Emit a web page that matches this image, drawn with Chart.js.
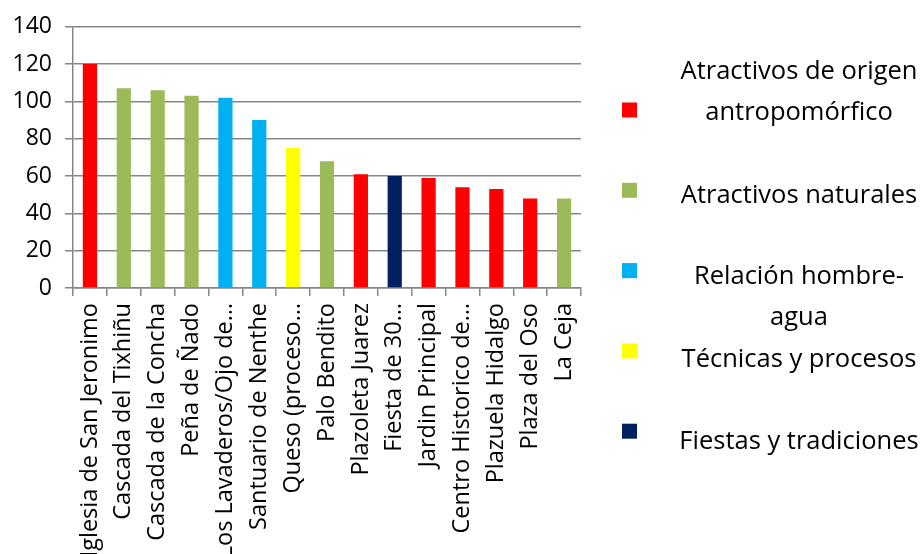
<!DOCTYPE html>
<html>
<head>
<meta charset="utf-8">
<script src="https://cdn.jsdelivr.net/npm/chart.js@4/dist/chart.umd.min.js"></script>
<style>
  html, body { margin: 0; padding: 0; background: #fff; }
  #wrap { width: 920px; height: 554px; position: relative; }
</style>
</head>
<body>
<div id="wrap"><canvas id="chart"></canvas></div>
<script>
const attractions = [
  'Iglesia de San Jeronimo', 'Cascada del Tixhiñu', 'Cascada de la Concha', 'Peña de Ñado',
  'Los Lavaderos/Ojo de…', 'Santuario de Nenthe', 'Queso (proceso…', 'Palo Bendito',
  'Plazoleta Juarez', 'Fiesta de 30…', 'Jardin Principal', 'Centro Historico de…',
  'Plazuela Hidalgo', 'Plaza del Oso', 'La Ceja'
];
const visits = [120, 107, 106, 103, 102, 90, 75, 68, 61, 60, 59, 54, 53, 48, 48];
// index into groupNames for each attraction
const groupOf = [0, 1, 1, 1, 2, 2, 3, 1, 0, 4, 0, 0, 0, 0, 1];

const groupNames = [
  ['Atractivos de origen', 'antropomórfico'],
  ['Atractivos naturales'],
  ['Relación hombre-', 'agua'],
  ['Técnicas y procesos'],
  ['Fiestas y tradiciones']
];
const groupColors = ['#ff0000', '#9bbb59', '#00b0f0', '#ffff00', '#002060'];

const yTicks = [0, 20, 40, 60, 80, 100, 120, 140];

const FONT = '"Open Sans", sans-serif';

// Excel-style legend on the right, one swatch per group
const sideLegend = {
  id: 'sideLegend',
  afterDraw(chart) {
    const ctx = chart.ctx;
    ctx.save();
    ctx.font = '25.5px ' + FONT;
    ctx.textAlign = 'center';
    ctx.textBaseline = 'middle';
    const textOffsets = [-18, 5, 27, 9, 11];
    groupNames.forEach((lines, i) => {
      const cy = 110 + i * 80.3;
      ctx.fillStyle = groupColors[i];
      ctx.fillRect(622, cy - 7.5, 15, 15);
      ctx.fillStyle = '#000';
      const start = cy + textOffsets[i] - (lines.length - 1) * 41 / 2;
      lines.forEach((ln, j) => ctx.fillText(ln, 799, start + j * 41));
    });
    ctx.restore();
  }
};

new Chart(document.getElementById('chart'), {
  type: 'bar',
  data: {
    labels: attractions,
    datasets: [{
      data: visits,
      backgroundColor: groupOf.map(g => groupColors[g]),
      borderWidth: 0,
      categoryPercentage: 1,
      barPercentage: 0.42
    }]
  },
  options: {
    responsive: true,
    maintainAspectRatio: false,
    animation: false,
    layout: { padding: { top: 26, right: 339, left: 0, bottom: 0 } },
    plugins: { legend: { display: false }, tooltip: { enabled: false } },
    scales: {
      x: {
        offset: true,
        grid: { offset: true, drawOnChartArea: false, drawTicks: true, tickLength: 8, color: '#868686', lineWidth: 1.5 },
        border: { color: '#868686', width: 1.5 },
        ticks: {
          autoSkip: false, minRotation: 90, maxRotation: 90, padding: 7,
          color: '#000', font: { family: FONT, size: 23.5 }
        },
        afterFit(scale) { scale.height = 266; }
      },
      y: {
        min: 0, max: 140,
        afterBuildTicks(scale) { scale.ticks = yTicks.map(v => ({ value: v })); },
        grid: { color: '#868686', lineWidth: 1.5, tickLength: 8 },
        border: { color: '#868686', width: 1.5 },
        ticks: { color: '#000', padding: 13, font: { family: FONT, size: 23 } },
        afterFit(scale) { scale.width = 73; }
      }
    }
  },
  plugins: [sideLegend]
});
</script>
</body>
</html>
